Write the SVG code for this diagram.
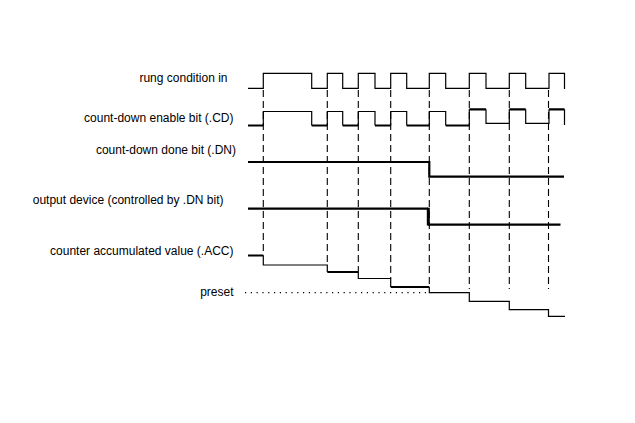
<svg xmlns="http://www.w3.org/2000/svg" width="635" height="423" viewBox="0 0 635 423">
<style>
text{font-family:"Liberation Sans",Arial,sans-serif;font-size:12px;fill:#000;text-anchor:end}
.t{fill:none;stroke:#000;stroke-width:1.2}
.k{fill:none;stroke:#000;stroke-width:2.2}
.d{fill:none;stroke:#000;stroke-width:1.1;stroke-dasharray:7 4}
.p{fill:none;stroke:#000;stroke-width:1.2;stroke-dasharray:1.2 4.6}
</style>
<rect width="635" height="423" fill="#fff"/>
<g id="labels">
<text x="227.5" y="82">rung condition in</text>
<text x="233.5" y="122">count-down enable bit (.CD)</text>
<text x="236" y="153.5">count-down done bit (.DN)</text>
<text x="223.5" y="204">output device (controlled by .DN bit)</text>
<text x="233.5" y="255">counter accumulated value (.ACC)</text>
<text x="233.5" y="296">preset</text>
</g>
<g id="connectors">
<path class="d" d="M263.3 90V255.5M327.3 90V265M358.3 90V272M390.7 90V278.5M429.3 90V287M469.3 90V289M509.3 90V289M548.5 90V289"/>
</g>
<g id="rung">
<path class="t" d="M248 88.3H263.3V73.3H311.7V88.3H327.3V73.3H342.7V88.3H358.3V73.3H375V88.3H390.7V73.3H406.7V88.3H429.3V73.3H445.7V88.3H469.3V73.3H486V88.3H509.3V73.3H525.7V88.3H549V73.3H564.5V89"/>
</g>
<g id="cd">
<path class="t" d="M263.3 125.5V111.5H311.7V125.5M327.3 125.5V111.5H342.7V125.5M358.3 125.5V111.5H375V125.5M390.7 125.5V111.5H406.7V125.5M429.3 125.5V111.5H445.7V125.5M469.3 125.5V109.3M486 109.3V123.3H509.3V109.3M525.7 109.3V123.3H549V109.3M564.5 109.3V125"/>
<path class="k" d="M248 125.5H263.3M311.7 125.5H327.3M342.7 125.5H358.3M375 125.5H390.7M406.7 125.5H429.3M445.7 125.5H469.3M469.3 109.3H486M509.3 109.3H525.7M549 109.3H564.5"/>
</g>
<g id="dn">
<path class="k" d="M248 162H429.3V176.7H564"/>
</g>
<g id="output">
<path class="k" d="M248 208.7H428M428 224.7H560.5"/>
<path fill="none" stroke="#000" stroke-width="3" d="M428.3 207.7V225.5"/>
</g>
<g id="acc">
<path class="t" d="M263.3 255.5V265H327.3V272M358.3 272V278.5H390.7V287M429.3 287V292.7H469.3V301.3H509.3V309.7H548.5V316.3H565"/>
<path class="k" d="M248 255.5H263.3M327.3 272H358.3M390.7 287H429.3"/>
</g>
<g id="preset">
<path class="p" d="M245 292.7H429"/>
</g>
</svg>
